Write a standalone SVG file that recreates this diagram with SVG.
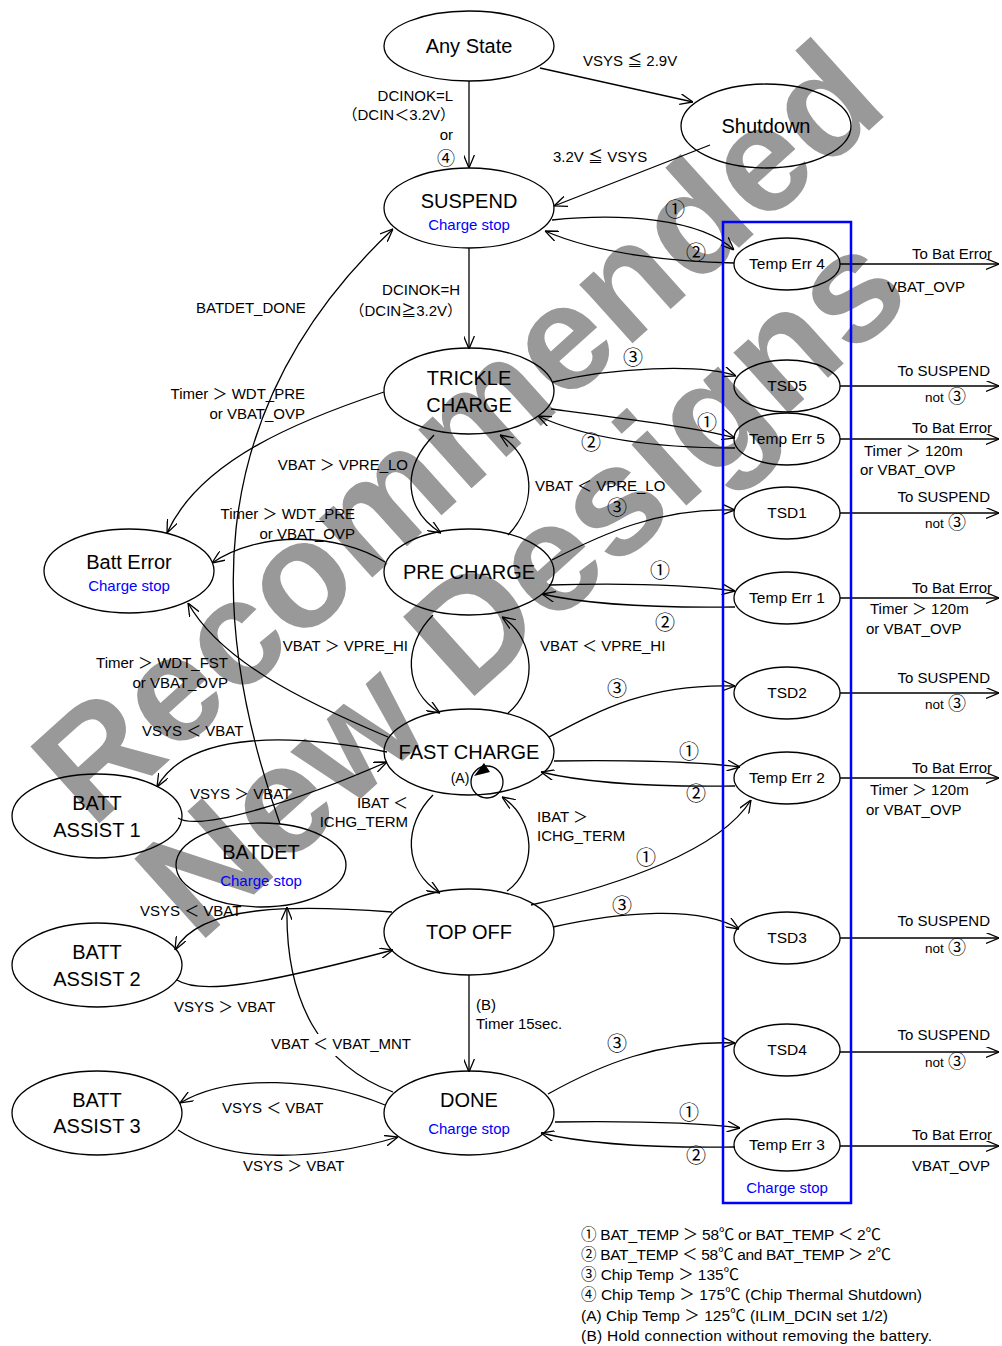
<svg xmlns="http://www.w3.org/2000/svg" width="1002" height="1346" viewBox="0 0 1002 1346">
<style>
text{font-family:"Liberation Sans","Noto Sans CJK JP",sans-serif;fill:#000}
.n{fill:none;stroke:#000;stroke-width:1.3}
.big{font-size:20px;text-anchor:middle}
.mid{font-size:15.5px;text-anchor:middle}
.cs{font-size:15px;fill:#0000ff;text-anchor:middle}
.lb{font-size:15px}
.e{text-anchor:end}
.c{text-anchor:middle}
.sm{font-size:13.5px}
.cn{font-family:"Noto Sans CJK JP",sans-serif;font-size:20px}
.cs2{font-family:"Noto Sans CJK JP",sans-serif;font-size:18px}
.lg{font-size:15.5px}
.ln{fill:none;stroke:#000;stroke-width:1.3;marker-end:url(#ar)}
.wm{font-family:"Liberation Sans",sans-serif;font-weight:bold;fill:#999}
</style>
<defs>
<marker id="ar" viewBox="0 0 12 10" refX="12" refY="5" markerWidth="13" markerHeight="11" markerUnits="userSpaceOnUse" orient="auto">
<path d="M0,0 L12,5 L0,10" fill="none" stroke="#000" stroke-width="1.2"/>
</marker>
</defs>
<rect width="1002" height="1346" fill="#fff"/>
<g id="watermark">
<text class="wm" font-size="150" transform="translate(92,830) rotate(-42)">Recommended</text>
<text class="wm" font-size="155" transform="translate(198,945) rotate(-42)">New Designs</text>
</g>
<g id="connectors">
<path class="ln" d="M469,81 L469,168"/>
<path class="ln" d="M540,68 L693,102"/>
<path class="ln" d="M710,145 L554,206"/>
<path class="ln" d="M552,220 C620,213 700,218 734,250"/>
<path class="ln" d="M734,263 C680,262 600,255 545,231"/>
<path class="ln" d="M469,248 L469,349"/>
<path class="ln" d="M280,824 C215,640 190,420 393,229"/>
<path class="ln" d="M384,392 C300,420 200,460 167,533"/>
<path class="ln" d="M434,435 C400,470 405,510 441,533"/>
<path class="ln" d="M508,535 C537,505 537,460 500,435"/>
<path class="ln" d="M385,562 C340,533 260,530 212,563"/>
<path class="ln" d="M388,737 C300,700 220,660 188,603"/>
<path class="ln" d="M387,752 C300,735 190,728 157,787"/>
<path class="ln" d="M178,818 C200,832 300,800 387,762"/>
<path class="ln" d="M433,615 C403,645 403,690 440,713"/>
<path class="ln" d="M508,713 C537,690 537,640 502,617"/>
<path class="ln" d="M433,795 C403,825 403,870 440,893"/>
<path class="ln" d="M507,891 C537,870 537,820 502,797"/>
<circle cx="487" cy="782" r="16" class="n"/>
<polygon points="474,776 484,763 490,772" fill="#000"/>
<path class="ln" d="M392,912 C300,905 200,903 175,950"/>
<path class="ln" d="M177,980 C200,995 260,985 393,950"/>
<path class="ln" d="M393,1092 C320,1065 285,1000 287,907"/>
<path class="ln" d="M469,975 L469,1072"/>
<path class="ln" d="M385,1105 C320,1078 230,1073 180,1103"/>
<path class="ln" d="M178,1130 C230,1165 320,1160 398,1137"/>
<path class="ln" d="M553,382 C610,368 700,363 736,376"/>
<path class="ln" d="M551,409 C620,418 700,428 735,438"/>
<path class="ln" d="M735,448 C660,448 590,440 538,416"/>
<path class="ln" d="M552,560 C600,535 660,507 735,510"/>
<path class="ln" d="M549,585 C620,583 690,585 735,591"/>
<path class="ln" d="M735,607 C660,608 590,605 542,594"/>
<path class="ln" d="M549,737 C600,710 650,683 735,686"/>
<path class="ln" d="M554,761 C630,760 700,762 740,767"/>
<path class="ln" d="M735,786 C660,787 590,784 541,772"/>
<path class="ln" d="M531,905 C620,885 720,850 751,800"/>
<path class="ln" d="M553,927 C620,912 700,905 739,929"/>
<path class="ln" d="M548,1094 C600,1065 660,1040 735,1043"/>
<path class="ln" d="M555,1122 C630,1121 700,1123 740,1128"/>
<path class="ln" d="M735,1147 C660,1148 590,1145 541,1133"/>
<path class="ln" d="M840,264 L999,264"/>
<path class="ln" d="M840,386 L999,386"/>
<path class="ln" d="M840,439 L999,439"/>
<path class="ln" d="M840,513 L999,513"/>
<path class="ln" d="M840,598 L999,598"/>
<path class="ln" d="M840,693 L999,693"/>
<path class="ln" d="M840,778 L999,778"/>
<path class="ln" d="M840,938 L999,938"/>
<path class="ln" d="M840,1052 L999,1052"/>
<path class="ln" d="M840,1146 L999,1146"/>
</g>
<rect x="723" y="222" width="128" height="981" fill="none" stroke="#0000ff" stroke-width="2.5"/>
<g id="any-state"><ellipse class="n" cx="469" cy="46" rx="85" ry="35"/><text class="big" x="469" y="53">Any State</text></g>
<g id="shutdown"><ellipse class="n" cx="766" cy="126" rx="85" ry="42"/><text class="big" x="766" y="133">Shutdown</text></g>
<g id="suspend"><ellipse class="n" cx="469" cy="208" rx="85" ry="40"/><text class="big" x="469" y="208">SUSPEND</text><text class="cs" x="469" y="230">Charge stop</text></g>
<g id="trickle"><ellipse class="n" cx="469" cy="391" rx="85" ry="43"/><text class="big" x="469" y="385">TRICKLE</text><text class="big" x="469" y="412">CHARGE</text></g>
<g id="pre-charge"><ellipse class="n" cx="469" cy="572" rx="85" ry="43"/><text class="big" x="469" y="579">PRE CHARGE</text></g>
<g id="fast-charge"><ellipse class="n" cx="469" cy="752" rx="85" ry="43"/><text class="big" x="469" y="759">FAST CHARGE</text><text class="lb c" x="460" y="783" style="font-size:14px">(A)</text></g>
<g id="top-off"><ellipse class="n" cx="469" cy="932" rx="85" ry="43"/><text class="big" x="469" y="939">TOP OFF</text></g>
<g id="done"><ellipse class="n" cx="469" cy="1113" rx="85" ry="42"/><text class="big" x="469" y="1107">DONE</text><text class="cs" x="469" y="1134">Charge stop</text></g>
<g id="batt-error"><ellipse class="n" cx="129" cy="571" rx="85" ry="42"/><text class="big" x="129" y="569">Batt Error</text><text class="cs" x="129" y="591">Charge stop</text></g>
<g id="batt-assist-1"><ellipse class="n" cx="97" cy="816" rx="85" ry="42"/><text class="big" x="97" y="810">BATT</text><text class="big" x="97" y="837">ASSIST 1</text></g>
<g id="batdet"><ellipse class="n" cx="261" cy="865" rx="85" ry="42"/><text class="big" x="261" y="859">BATDET</text><text class="cs" x="261" y="886">Charge stop</text></g>
<g id="batt-assist-2"><ellipse class="n" cx="97" cy="965" rx="85" ry="42"/><text class="big" x="97" y="959">BATT</text><text class="big" x="97" y="986">ASSIST 2</text></g>
<g id="batt-assist-3"><ellipse class="n" cx="97" cy="1113" rx="85" ry="42"/><text class="big" x="97" y="1107">BATT</text><text class="big" x="97" y="1133">ASSIST 3</text></g>
<g id="temp-err-4"><ellipse class="n" cx="787" cy="264" rx="53" ry="26"/><text class="mid" x="787" y="269">Temp Err 4</text></g>
<g id="tsd5"><ellipse class="n" cx="787" cy="386" rx="53" ry="26"/><text class="mid" x="787" y="391">TSD5</text></g>
<g id="temp-err-5"><ellipse class="n" cx="787" cy="439" rx="53" ry="26"/><text class="mid" x="787" y="444">Temp Err 5</text></g>
<g id="tsd1"><ellipse class="n" cx="787" cy="513" rx="53" ry="26"/><text class="mid" x="787" y="518">TSD1</text></g>
<g id="temp-err-1"><ellipse class="n" cx="787" cy="598" rx="53" ry="26"/><text class="mid" x="787" y="603">Temp Err 1</text></g>
<g id="tsd2"><ellipse class="n" cx="787" cy="693" rx="53" ry="26"/><text class="mid" x="787" y="698">TSD2</text></g>
<g id="temp-err-2"><ellipse class="n" cx="787" cy="778" rx="53" ry="26"/><text class="mid" x="787" y="783">Temp Err 2</text></g>
<g id="tsd3"><ellipse class="n" cx="787" cy="938" rx="53" ry="26"/><text class="mid" x="787" y="943">TSD3</text></g>
<g id="tsd4"><ellipse class="n" cx="787" cy="1050" rx="53" ry="26"/><text class="mid" x="787" y="1055">TSD4</text></g>
<g id="temp-err-3"><ellipse class="n" cx="787" cy="1145" rx="53" ry="26"/><text class="mid" x="787" y="1150">Temp Err 3</text></g>
<text class="cs" x="787" y="1193">Charge stop</text>
<g id="labels">
<text class="lb" x="583" y="66">VSYS ≦ 2.9V</text>
<text class="lb" x="553" y="162">3.2V ≦ VSYS</text>
<text class="lb e" x="453" y="101">DCINOK=L</text>
<text class="lb e" x="455" y="120">（DCIN＜3.2V）</text>
<text class="lb e" x="453" y="139.5">or</text>
<text class="cs2 e" x="455" y="164.5">④</text>
<text class="cn c" x="675" y="217">①</text>
<text class="cn c" x="696" y="260">②</text>
<text class="lb e" x="460" y="295">DCINOK=H</text>
<text class="lb e" x="462" y="316">（DCIN≧3.2V）</text>
<text class="lb" x="196" y="313">BATDET_DONE</text>
<text class="lb e" x="305" y="399">Timer ＞ WDT_PRE</text>
<text class="lb e" x="305" y="419">or VBAT_OVP</text>
<text class="lb e" x="408" y="470">VBAT ＞ VPRE_LO</text>
<text class="lb" x="535" y="491">VBAT ＜ VPRE_LO</text>
<text class="cn c" x="633" y="365">③</text>
<text class="cn c" x="707" y="430">①</text>
<text class="cn c" x="591" y="450">②</text>
<text class="lb e" x="355" y="519">Timer ＞ WDT_PRE</text>
<text class="lb e" x="355" y="539">or VBAT_OVP</text>
<text class="cn c" x="617" y="515">③</text>
<text class="cn c" x="660" y="578">①</text>
<text class="cn c" x="665" y="630">②</text>
<text class="lb e" x="408" y="651">VBAT ＞ VPRE_HI</text>
<text class="lb" x="540" y="651">VBAT ＜ VPRE_HI</text>
<text class="lb e" x="228" y="668">Timer ＞ WDT_FST</text>
<text class="lb e" x="228" y="688">or VBAT_OVP</text>
<text class="cn c" x="617" y="696">③</text>
<text class="cn c" x="689" y="759">①</text>
<text class="cn c" x="696" y="801">②</text>
<text class="lb" x="142" y="736">VSYS ＜ VBAT</text>
<text class="lb" x="190" y="799">VSYS ＞ VBAT</text>
<text class="lb e" x="408" y="808">IBAT ＜</text>
<text class="lb e" x="408" y="827">ICHG_TERM</text>
<text class="lb" x="537" y="822">IBAT ＞</text>
<text class="lb" x="537" y="841">ICHG_TERM</text>
<text class="cn c" x="646" y="865">①</text>
<text class="lb" x="140" y="916">VSYS ＜ VBAT</text>
<text class="cn c" x="622" y="913">③</text>
<text class="lb" x="174" y="1012">VSYS ＞ VBAT</text>
<text class="lb" x="476" y="1010">(B)</text>
<text class="lb" x="476" y="1029">Timer 15sec.</text>
<rect x="268" y="1034" width="146" height="22" fill="#fff"/>
<text class="lb" x="271" y="1049">VBAT ＜ VBAT_MNT</text>
<text class="cn c" x="617" y="1051">③</text>
<text class="lb" x="222" y="1113">VSYS ＜ VBAT</text>
<text class="cn c" x="689" y="1120">①</text>
<text class="cn c" x="696" y="1163">②</text>
<text class="lb" x="243" y="1171">VSYS ＞ VBAT</text>
<text class="lb e" x="992" y="259">To Bat Error</text>
<text class="lb e" x="965" y="292">VBAT_OVP</text>
<text class="lb e" x="990" y="376">To SUSPEND</text>
<text class="sm" x="925" y="402">not</text><text class="cs2 c" x="957" y="403">③</text>
<text class="lb e" x="992" y="433">To Bat Error</text>
<text class="lb" x="864" y="456">Timer ＞ 120m</text>
<text class="lb" x="860" y="475">or VBAT_OVP</text>
<text class="lb e" x="990" y="502">To SUSPEND</text>
<text class="sm" x="925" y="528">not</text><text class="cs2 c" x="957" y="529">③</text>
<text class="lb e" x="992" y="593">To Bat Error</text>
<text class="lb" x="870" y="614">Timer ＞ 120m</text>
<text class="lb" x="866" y="634">or VBAT_OVP</text>
<text class="lb e" x="990" y="683">To SUSPEND</text>
<text class="sm" x="925" y="709">not</text><text class="cs2 c" x="957" y="710">③</text>
<text class="lb e" x="992" y="773">To Bat Error</text>
<text class="lb" x="870" y="795">Timer ＞ 120m</text>
<text class="lb" x="866" y="815">or VBAT_OVP</text>
<text class="lb e" x="990" y="926">To SUSPEND</text>
<text class="sm" x="925" y="953">not</text><text class="cs2 c" x="957" y="954">③</text>
<text class="lb e" x="990" y="1040">To SUSPEND</text>
<text class="sm" x="925" y="1067">not</text><text class="cs2 c" x="957" y="1068">③</text>
<text class="lb e" x="992" y="1140">To Bat Error</text>
<text class="lb e" x="990" y="1171">VBAT_OVP</text>
</g>
<g id="legend">
<text class="lg" x="581" y="1240" textLength="300">① BAT_TEMP ＞ 58℃ or BAT_TEMP ＜ 2℃</text>
<text class="lg" x="581" y="1260" textLength="310">② BAT_TEMP ＜ 58℃ and BAT_TEMP ＞ 2℃</text>
<text class="lg" x="581" y="1280" textLength="158">③ Chip Temp ＞ 135℃</text>
<text class="lg" x="581" y="1300" textLength="341">④ Chip Temp ＞ 175℃ (Chip Thermal Shutdown)</text>
<text class="lg" x="581" y="1321" textLength="307">(A) Chip Temp ＞ 125℃ (ILIM_DCIN set 1/2)</text>
<text class="lg" x="581" y="1341" textLength="351">(B) Hold connection without removing the battery.</text>
</g>
</svg>
